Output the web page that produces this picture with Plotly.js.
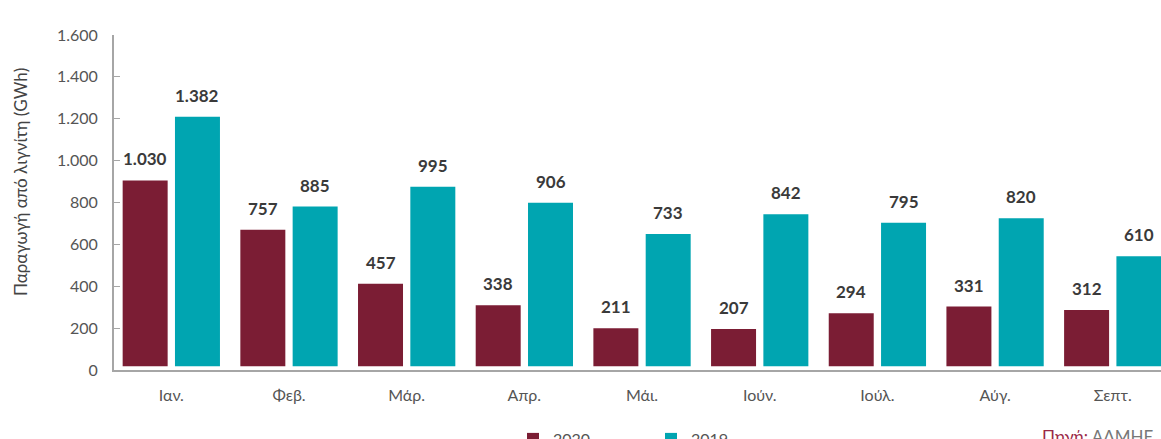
<!DOCTYPE html>
<html>
<head>
<meta charset="utf-8">
<script src="https://cdn.plot.ly/plotly-3.0.1.min.js"></script>
<style>html,body{margin:0;padding:0;background:#fff;}#chart{width:1161px;height:439px;}</style>
</head>
<body>
<div id="chart"></div>
<script>
const months = ['Ιαν.', 'Φεβ.', 'Μάρ.', 'Απρ.', 'Μάι.', 'Ιούν.', 'Ιούλ.', 'Αύγ.', 'Σεπτ.'];
const values2020 = [1030, 757, 457, 338, 211, 207, 294, 331, 312];
const values2019 = [1382, 885, 995, 906, 733, 842, 795, 820, 610];
const seriesNames = ['2020', '2019'];
const yTicks = [0, 200, 400, 600, 800, 1000, 1200, 1400, 1600];
const yTitle = 'Παραγωγή από λιγνίτη (GWh)';
const sourceLabel = 'Πηγή:';
const sourceName = 'ΑΔΜΗΕ';

const colors = ['#7b1d34', '#00a5b1'];
const FONT = 'Lato, "Open Sans", sans-serif';

const traces = [
  {type: 'bar', name: seriesNames[0], x: months, y: values2020,
   marker: {color: colors[0]}, hoverinfo: 'x+y'},
  {type: 'bar', name: seriesNames[1], x: months, y: values2019,
   marker: {color: colors[1]}, hoverinfo: 'x+y'},
  // empty trace so the visible tick axis (y2) gets its subplot drawn
  {type: 'scatter', mode: 'markers', x: [], y: [], yaxis: 'y2', showlegend: false, hoverinfo: 'skip'}
];

const fmt = v => String(v).replace(/\B(?=(\d{3})+(?!\d))/g, '.');
const offset = 0.2222;
const annotations = [];
[values2020, values2019].forEach((vals, s) => {
  vals.forEach((v, i) => {
    annotations.push({
      x: i + (s === 0 ? -offset : offset), y: v, xref: 'x', yref: 'y',
      text: fmt(v),
      showarrow: false, xanchor: 'center', yanchor: 'bottom', yshift: 9,
      font: {family: FONT, size: 17, color: '#3a3a3a', weight: 700}
    });
  });
});

annotations.push({
  xref: 'paper', yref: 'paper', x: (20 - 114) / 1047, y: (370 - 182) / 335,
  text: yTitle, textangle: -90, showarrow: false, xanchor: 'center', yanchor: 'middle',
  font: {family: FONT, size: 17, color: '#444'}
});
annotations.push({
  xref: 'paper', yref: 'paper', x: (1039.5 - 114) / 1047, y: (370 - 424) / 335,
  text: '<span style="color:#9b2846">' + sourceLabel + '</span> ' + sourceName,
  showarrow: false, xanchor: 'left', yanchor: 'top',
  font: {family: FONT, size: 17, color: '#777'}
});

const layout = {
  width: 1161, height: 439,
  margin: {l: 114, r: 0, t: 35, b: 69, autoexpand: false},
  paper_bgcolor: '#fff', plot_bgcolor: '#fff',
  separators: ',.',
  font: {family: FONT, color: '#555'},
  barmode: 'group', bargap: 0.111, bargroupgap: 0.14,
  showlegend: true,
  legend: {orientation: 'h', x: (513 - 114) / 1047, xanchor: 'left', y: (370 - 422) / 335, yanchor: 'top',
           font: {family: FONT, size: 16, color: '#555'}, entrywidth: 93, entrywidthmode: 'pixels', traceorder: 'normal'},
  xaxis: {type: 'category', range: [-0.487, 8.41], showline: true, linecolor: '#a6a6a6', linewidth: 2,
          ticks: '', showgrid: false, zeroline: false, ticklabelstandoff: 10,
          tickfont: {family: FONT, size: 16, color: '#555'}},
  // hidden scale on which the bars are drawn (matches the reference's bar scaling)
  yaxis: {range: [-20.5, 1835.5], visible: false, showgrid: false, zeroline: false, fixedrange: true},
  // visible tick axis as shown in the reference
  yaxis2: {overlaying: 'y', anchor: 'x', side: 'left', range: [0, 1600], tickvals: yTicks, tickformat: ',d',
           showline: true, linecolor: '#a6a6a6', linewidth: 2,
           ticks: 'inside', ticklen: 6, tickcolor: '#a6a6a6', tickwidth: 1, showgrid: false, zeroline: false,
           ticklabelstandoff: 11, tickfont: {family: FONT, size: 16, color: '#555'}},
  annotations: annotations
};

Plotly.newPlot('chart', traces, layout, {displayModeBar: false, staticPlot: true});
</script>
</body>
</html>
